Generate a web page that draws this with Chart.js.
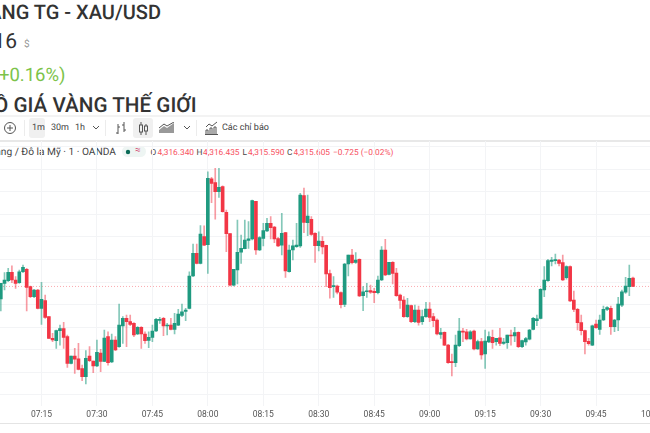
<!DOCTYPE html>
<html lang="vi">
<head>
<meta charset="utf-8">
<title>XAU/USD</title>
<script src="https://cdn.jsdelivr.net/npm/chart.js@4"></script>
<style>
  html, body { margin: 0; padding: 0; background: #fff; }
  body { position: relative; width: 650px; height: 433px; overflow: hidden; font-family: Roboto, "Noto Sans", sans-serif; color: #333; }
  .t { position: absolute; white-space: nowrap; line-height: 1; text-rendering: geometricPrecision; }
  .rule { position: absolute; left: 0; width: 650px; }
  .sel { position: absolute; background: #f0f0f0; border-radius: 3px; }
  .sep { position: absolute; top: 120px; width: 1px; height: 16px; background: #ececec; }
  svg { position: absolute; fill: none; stroke: #555; stroke-width: 1; }
  canvas { position: absolute; left: 0; top: 141px; }
  .tb { font-size: 9px; color: #444; top: 124px; }
  .ohlc { font-size: 8.3px; top: 149px; color: #f7525f; }
  .ohlc b { font-weight: 400; color: #444; }
</style>
</head>
<body>
<!-- page heading, cut off at the left edge -->
<div class="t" style="right:489px;top:2px;font-size:20px;font-weight:500">GIÁ VÀNG TG - XAU/USD</div>
<div class="t" style="right:633px;top:32px;font-size:21px">4,316</div>
<div class="t" style="left:24px;top:40px;font-size:10px;color:#999">$</div>
<div class="t" style="right:584.5px;top:66px;font-size:18.5px;color:#7cc34a">+6.90 (+0.16%)</div>
<div class="t" style="right:453.5px;top:96px;font-size:20.7px;font-weight:500">BIỂU ĐỒ GIÁ VÀNG THẾ GIỚI</div>

<div class="rule" style="top:115px;height:2px;background:#f3f3f3"></div>
<div class="rule" style="top:140px;height:2px;background:#e8e8e8"></div>
<div class="rule" style="top:423px;height:1px;background:#e4e4e4"></div>

<!-- toolbar -->
<svg style="left:3px;top:121px" width="14" height="14"><circle cx="7" cy="7" r="5.5"/><path d="M7 4v6M4 7h6"/></svg>
<div class="sep" style="left:24px"></div>
<div class="sel" style="left:29px;top:118px;width:16px;height:20px"></div>
<div class="t tb" style="left:32px">1m</div>
<div class="t tb" style="left:51px">30m</div>
<div class="t tb" style="left:75px">1h</div>
<svg style="left:92px;top:125px" width="8" height="6"><path d="M1 1l3 3 3-3"/></svg>
<div class="sep" style="left:105px"></div>
<svg style="left:115px;top:121px" width="12" height="15"><path d="M3 3v10M3 12H1M3 6h2M9 1v10M9 4H7M9 9h2"/></svg>
<div class="sel" style="left:133px;top:118px;width:20px;height:20px"></div>
<svg style="left:138px;top:121px" width="11" height="15"><path d="M3 1v13M8 3v11"/><rect x="1.5" y="4" width="3" height="7" fill="#f0f0f0"/><rect x="6.5" y="5" width="3" height="5" fill="#f0f0f0"/></svg>
<svg style="left:159px;top:122px" width="16" height="12"><path d="M0 11V8l5-4 3 2 7-5v10z" fill="#999" stroke="none"/><path d="M0 6l5-4 3 2 7-4" /></svg>
<svg style="left:183px;top:125px" width="8" height="6"><path d="M1 1l3 3 3-3"/></svg>
<div class="sep" style="left:196px"></div>
<svg style="left:205px;top:121px" width="13" height="14"><path d="M1 6l3-3 3 2 5-4M1 13V9h2v4M5 13V7h2v6M9 13V6h2v7M0 13.5h13"/></svg>
<div class="t tb" style="left:222px">Các chỉ báo</div>

<!-- symbol legend -->
<div class="t" style="right:534px;top:147.5px;font-size:10.2px;color:#444">Vàng / Đô la Mỹ · 1 · OANDA</div>
<div class="sel" style="left:122px;top:146px;width:24px;height:11px;background:#eef5f3;border-radius:6px"></div>
<svg style="left:124px;top:148px;stroke:none" width="8" height="8"><circle cx="4" cy="4" r="2.2" fill="#0b6b57"/></svg>
<div class="t" style="left:135px;top:146px;font-size:10px;color:#d4527a">≈</div>
<div class="t ohlc" style="left:150.5px"><b>O</b></div><div class="t ohlc" style="left:157.5px">4,316.340</div>
<div class="t ohlc" style="left:196.5px"><b>H</b></div><div class="t ohlc" style="left:203px">4,316.435</div>
<div class="t ohlc" style="left:242.5px"><b>L</b></div><div class="t ohlc" style="left:248px">4,315.590</div>
<div class="t ohlc" style="left:287px"><b>C</b></div><div class="t ohlc" style="left:293.5px">4,315.605</div>
<div class="t ohlc" style="left:333px">−0.725 (−0.02%)</div>

<canvas id="xauChart" width="690" height="283"></canvas>

<script>
// ── Market data, one candle per minute from 07:04 ──
const firstMinute = 424;

const opens = [
  4314.50, 4315.88, 4316.12, 4316.86, 4316.18, 4315.94, 4316.91, 4317.12, 4315.59, 4314.70, 4315.29, 4313.67,
  4314.35, 4312.93, 4311.01, 4310.81, 4311.69, 4311.87, 4311.16, 4308.80, 4309.45, 4309.19, 4308.33, 4307.62,
  4309.45, 4309.01, 4308.57, 4309.72, 4308.98, 4311.16, 4308.92, 4310.87, 4310.28, 4312.11, 4312.78, 4312.49,
  4312.34, 4311.40, 4311.99, 4311.40, 4310.84, 4311.10, 4311.66, 4312.61, 4312.78, 4312.11, 4312.19, 4311.81,
  4312.19, 4313.05, 4313.40, 4313.67, 4316.53, 4318.54, 4317.65, 4320.01, 4319.30, 4325.12, 4324.79, 4323.99,
  4324.44, 4322.17, 4320.28, 4315.73, 4317.06, 4318.63, 4318.95, 4319.69, 4319.81, 4323.14, 4318.83, 4319.86,
  4320.51, 4321.19, 4320.87, 4319.84, 4319.27, 4320.37, 4316.91, 4318.83, 4319.13, 4319.19, 4323.64, 4321.25,
  4321.55, 4320.31, 4319.22, 4319.60, 4319.25, 4316.74, 4315.59, 4315.65, 4315.06, 4314.02, 4317.59, 4318.39,
  4317.74, 4318.01, 4314.79, 4315.14, 4315.23, 4315.17, 4315.06, 4316.18, 4318.83, 4316.68, 4317.74, 4316.80,
  4314.85, 4314.41, 4312.93, 4313.91, 4312.49, 4313.52, 4312.49, 4312.93, 4313.61, 4312.93, 4312.64, 4311.37,
  4311.55, 4310.42, 4308.95, 4308.86, 4310.37, 4311.66, 4311.60, 4310.96, 4311.66, 4310.07, 4310.72, 4309.63,
  4310.69, 4311.10, 4310.72, 4311.07, 4310.57, 4310.63, 4311.31, 4311.22, 4311.55, 4310.28, 4310.69, 4310.93,
  4311.81, 4312.58, 4312.78, 4315.29, 4316.12, 4317.83, 4317.89, 4317.95, 4317.71, 4316.38, 4317.36, 4314.41,
  4313.58, 4312.40, 4311.69, 4310.75, 4310.42, 4312.28, 4311.81, 4312.64, 4313.58, 4313.67, 4312.05, 4312.64,
  4313.96, 4315.09, 4315.59, 4316.34
];

const closes = [
  4315.88, 4316.18, 4316.86, 4316.18, 4315.88, 4316.91, 4317.30, 4315.53, 4314.70, 4315.29, 4313.67, 4314.47,
  4312.87, 4311.01, 4310.87, 4311.69, 4311.87, 4311.10, 4308.80, 4309.45, 4309.16, 4308.27, 4307.62, 4309.24,
  4309.04, 4308.57, 4309.78, 4308.98, 4311.04, 4308.86, 4310.87, 4309.98, 4312.19, 4312.78, 4312.49, 4312.25,
  4311.31, 4311.99, 4311.40, 4310.81, 4311.10, 4311.66, 4312.70, 4312.70, 4312.11, 4312.19, 4311.81, 4312.34,
  4313.17, 4313.37, 4313.52, 4316.53, 4318.54, 4317.65, 4320.25, 4319.27, 4325.17, 4324.73, 4323.99, 4324.38,
  4322.22, 4320.28, 4315.73, 4317.12, 4318.63, 4318.98, 4319.72, 4319.81, 4323.20, 4318.83, 4319.92, 4320.54,
  4321.19, 4320.81, 4319.81, 4319.19, 4320.31, 4316.97, 4318.83, 4319.19, 4319.27, 4323.70, 4321.28, 4321.84,
  4320.22, 4319.22, 4319.63, 4319.10, 4316.71, 4315.50, 4315.65, 4315.09, 4313.99, 4317.59, 4318.39, 4317.71,
  4317.95, 4314.76, 4315.14, 4315.20, 4315.09, 4315.06, 4316.18, 4318.83, 4316.62, 4317.74, 4316.77, 4314.79,
  4314.38, 4312.93, 4313.96, 4312.49, 4313.52, 4312.43, 4312.93, 4313.61, 4312.87, 4312.58, 4311.40, 4311.52,
  4310.42, 4308.86, 4308.86, 4310.42, 4311.66, 4311.55, 4310.96, 4311.60, 4310.07, 4310.72, 4309.54, 4310.78,
  4311.16, 4310.63, 4311.01, 4310.57, 4310.69, 4311.31, 4311.22, 4311.52, 4310.28, 4310.81, 4310.99, 4311.75,
  4312.78, 4312.73, 4315.35, 4316.18, 4317.89, 4317.95, 4317.98, 4317.65, 4316.18, 4317.36, 4314.32, 4313.58,
  4312.40, 4311.69, 4310.72, 4310.54, 4312.13, 4311.96, 4312.64, 4313.58, 4313.73, 4312.05, 4312.64, 4314.05,
  4315.14, 4315.65, 4316.32, 4315.605
];

const highs = [
  4315.88, 4316.83, 4317.21, 4317.42, 4316.47, 4317.06, 4317.50, 4317.21, 4315.65, 4315.35, 4315.35, 4315.97,
  4314.85, 4312.93, 4311.46, 4311.75, 4312.19, 4312.43, 4311.31, 4309.45, 4310.13, 4310.57, 4308.65, 4309.92,
  4310.28, 4309.01, 4310.87, 4310.04, 4311.75, 4311.60, 4311.40, 4311.16, 4314.05, 4312.93, 4313.08, 4313.08,
  4312.40, 4312.05, 4312.05, 4311.60, 4311.60, 4312.19, 4312.78, 4312.87, 4312.87, 4312.34, 4312.78, 4313.23,
  4313.58, 4314.05, 4313.67, 4316.91, 4319.36, 4319.36, 4320.99, 4320.96, 4325.76, 4325.26, 4326.06, 4326.06,
  4324.50, 4322.37, 4320.28, 4317.12, 4321.49, 4320.16, 4321.49, 4321.34, 4323.26, 4323.14, 4320.01, 4321.19,
  4321.63, 4321.78, 4320.93, 4319.95, 4322.08, 4320.40, 4319.27, 4319.72, 4321.19, 4323.85, 4324.32, 4323.70,
  4321.78, 4320.37, 4320.45, 4320.01, 4319.27, 4317.06, 4316.47, 4315.73, 4315.14, 4317.65, 4318.39, 4318.89,
  4318.60, 4318.04, 4315.59, 4315.88, 4315.73, 4315.44, 4316.53, 4319.13, 4319.78, 4317.74, 4317.80, 4317.21,
  4314.94, 4314.70, 4314.55, 4313.96, 4313.96, 4313.88, 4313.52, 4314.20, 4314.17, 4313.23, 4312.73, 4311.90,
  4311.60, 4310.48, 4309.63, 4311.31, 4312.78, 4311.90, 4311.81, 4311.69, 4311.75, 4310.87, 4311.01, 4311.75,
  4311.60, 4311.75, 4311.01, 4311.90, 4311.01, 4311.31, 4311.75, 4311.99, 4311.60, 4310.87, 4311.10, 4311.81,
  4312.87, 4313.08, 4315.41, 4317.36, 4318.01, 4318.18, 4318.48, 4318.01, 4318.39, 4317.42, 4317.42, 4315.20,
  4313.67, 4313.08, 4311.75, 4311.01, 4312.19, 4312.64, 4313.08, 4313.88, 4313.82, 4313.88, 4312.70, 4314.64,
  4315.29, 4316.41, 4317.50, 4316.435
];

const lows = [
  4313.43, 4315.29, 4316.03, 4315.94, 4315.44, 4315.88, 4316.83, 4313.43, 4314.61, 4314.61, 4313.61, 4312.25,
  4312.78, 4311.01, 4310.72, 4310.13, 4310.42, 4310.13, 4308.45, 4308.74, 4307.92, 4308.21, 4307.27, 4306.97,
  4308.95, 4307.98, 4308.51, 4308.06, 4308.95, 4308.65, 4308.86, 4309.92, 4310.22, 4310.57, 4310.28, 4312.14,
  4311.16, 4311.34, 4310.13, 4310.57, 4310.19, 4310.72, 4311.60, 4312.34, 4311.25, 4311.31, 4311.75, 4311.40,
  4312.14, 4312.93, 4312.58, 4313.61, 4316.47, 4317.59, 4317.59, 4319.22, 4316.77, 4323.02, 4321.55, 4323.49,
  4322.17, 4318.68, 4315.65, 4315.65, 4315.82, 4317.65, 4318.92, 4318.98, 4319.72, 4318.45, 4318.77, 4319.19,
  4320.45, 4319.81, 4319.48, 4319.13, 4318.39, 4316.41, 4316.86, 4317.95, 4319.07, 4319.07, 4320.37, 4320.10,
  4320.13, 4317.74, 4318.74, 4318.48, 4315.59, 4314.58, 4314.64, 4314.94, 4313.70, 4313.82, 4316.53, 4317.59,
  4317.65, 4314.70, 4313.46, 4314.64, 4315.00, 4314.17, 4314.94, 4316.12, 4316.56, 4316.62, 4315.82, 4314.73,
  4313.67, 4312.87, 4312.87, 4312.40, 4312.40, 4312.19, 4312.25, 4312.87, 4312.49, 4312.05, 4311.31, 4311.01,
  4310.37, 4308.80, 4307.68, 4308.51, 4310.28, 4310.72, 4310.87, 4310.93, 4309.98, 4310.04, 4309.16, 4308.36,
  4310.63, 4310.13, 4310.42, 4310.37, 4310.48, 4310.13, 4310.42, 4310.72, 4310.19, 4310.19, 4310.42, 4310.87,
  4311.75, 4312.14, 4312.73, 4314.70, 4316.06, 4317.42, 4317.59, 4317.42, 4316.12, 4316.24, 4314.26, 4313.37,
  4311.75, 4311.31, 4309.63, 4310.40, 4310.37, 4311.90, 4311.37, 4312.58, 4313.46, 4311.37, 4311.60, 4311.69,
  4313.82, 4315.00, 4314.79, 4315.59
];

const lastPrice = 4315.605;

const timeTicks = [435, 450, 465, 480, 495, 510, 525, 540, 555, 570, 585, 600];
const timeLabels = ['07:15', '07:30', '07:45', '08:00', '08:15', '08:30', '08:45', '09:00', '09:15', '09:30', '09:45', '10:00'];
const priceTicks = [4306, 4308, 4310, 4312, 4314, 4316, 4318, 4320, 4322, 4324, 4326, 4328];

// ── Candle colours ──
const UP = '#1f9a80';
const DOWN = '#f23645';
const UP_WICK = 'rgba(31,154,128,0.55)';
const DOWN_WICK = 'rgba(242,54,69,0.5)';
const isDown = opens.map((o, i) => closes[i] < o);

const minutes = opens.map((_, i) => firstMinute + i);
const xMin = 423.78;
const xMax = 610.42;

new Chart(document.getElementById('xauChart'), {
  type: 'bar',
  data: {
    datasets: [
      {
        type: 'line',
        data: [{ x: xMin, y: lastPrice }, { x: xMax, y: lastPrice }],
        borderColor: 'rgba(242,54,69,0.42)',
        borderWidth: 1,
        borderDash: [1, 2],
        pointRadius: 0,
        order: 3
      },
      {
        // wicks
        data: minutes.map((m, i) => ({ x: m, y: [lows[i], highs[i]] })),
        backgroundColor: isDown.map(d => d ? DOWN_WICK : UP_WICK),
        barThickness: 1,
        grouped: false,
        order: 2
      },
      {
        // bodies
        data: minutes.map((m, i) => ({ x: m, y: [opens[i], closes[i]] })),
        backgroundColor: isDown.map(d => d ? DOWN : UP),
        barThickness: 3,
        minBarLength: 1,
        grouped: false,
        order: 1
      }
    ]
  },
  options: {
    responsive: false,
    animation: false,
    layout: { padding: 0 },
    plugins: { legend: { display: false }, tooltip: { enabled: false } },
    scales: {
      x: {
        type: 'linear',
        offset: false,
        min: xMin,
        max: xMax,
        afterBuildTicks: axis => { axis.ticks = timeTicks.map(v => ({ value: v })); },
        afterFit: axis => { axis.height = 18.3; },
        grid: { offset: false, color: '#f3f4f6', drawTicks: false },
        border: { display: false },
        ticks: {
          autoSkip: false,
          maxRotation: 0,
          padding: 4,
          color: '#555',
          font: { family: 'Roboto', size: 8.5 },
          callback: v => timeLabels[timeTicks.indexOf(v)]
        }
      },
      y: {
        min: 4305.053,
        max: 4328.478,
        afterBuildTicks: axis => { axis.ticks = priceTicks.map(v => ({ value: v })); },
        afterFit: axis => { axis.width = 0; },
        grid: { color: '#f3f4f6', drawTicks: false },
        border: { display: false },
        ticks: { display: false }
      }
    }
  }
});
</script>
</body>
</html>
